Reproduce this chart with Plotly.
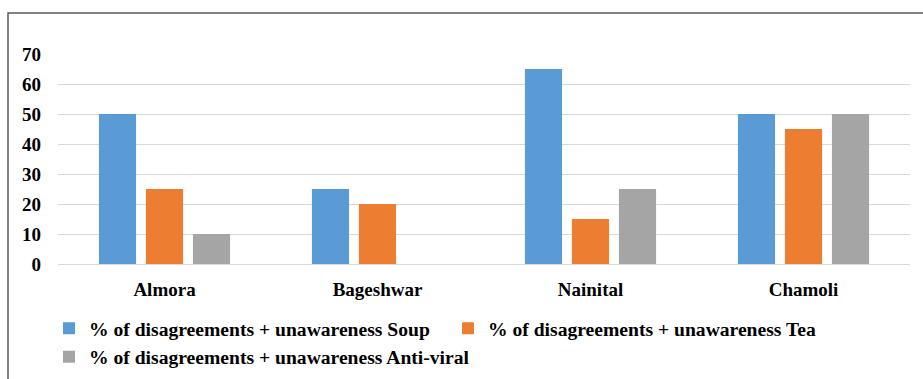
import plotly.graph_objects as go

# District-wise share of respondents who disagree with or are unaware of each remedy
districts = ["Almora", "Bageshwar", "Nainital", "Chamoli"]
soup = [50, 25, 65, 50]
tea = [25, 20, 15, 45]
antiviral = [10, 0, 25, 50]

series_names = [
    "% of disagreements + unawareness Soup",
    "% of disagreements + unawareness Tea",
    "% of disagreements + unawareness Anti-viral",
]
series_values = [soup, tea, antiviral]
series_colors = ["#5B9BD5", "#ED7D31", "#A5A5A5"]
y_ticks = [0, 10, 20, 30, 40, 50, 60, 70]

W, H = 923, 379
ML, MR, MT, MB = 58, 13, 54, 115
FAMILY = "Liberation Serif, Times New Roman, serif"
FONT = dict(family=FAMILY, size=19, color="#000000", weight="bold")
LEGEND_FONT = dict(family=FAMILY, size=19.6, color="#000000", weight="bold")

fig = go.Figure()
for name, vals, col in zip(series_names, series_values, series_colors):
    fig.add_trace(go.Bar(x=districts, y=vals, name=name, marker=dict(color=col, line=dict(width=0))))

pw = W - ML - MR
ph = H - MT - MB
# outer frame around the chart area
fig.add_shape(
    type="rect", xref="paper", yref="paper",
    x0=(8 - ML) / pw, x1=(W + 10 - ML) / pw,
    y0=(H - MB - (H + 10)) / ph, y1=(H - MB - 13) / ph,
    line=dict(color="#595959", width=1.5), fillcolor="rgba(0,0,0,0)", layer="below",
)

fig.update_layout(
    width=W, height=H,
    margin=dict(l=ML, r=MR, t=MT, b=MB, autoexpand=False),
    paper_bgcolor="white", plot_bgcolor="white",
    font=FONT,
    barmode="group", bargap=0.338, bargroupgap=0.21,
    showlegend=True,
    legend=dict(
        orientation="h", x=(49 - ML) / pw, xanchor="left",
        y=(H - MB - 309) / ph, yanchor="top",
        entrywidth=354, entrywidthmode="pixels",
        font=LEGEND_FONT,
        bgcolor="rgba(0,0,0,0)", tracegroupgap=0,
    ),
)
fig.update_xaxes(
    showgrid=False, showline=False, ticks="", ticklabelstandoff=12,
    tickfont=FONT,
)
fig.update_yaxes(
    range=[0, 70], tickvals=y_ticks, showgrid=True, gridcolor="#D9D9D9", gridwidth=1,
    zeroline=True, zerolinecolor="#D9D9D9", zerolinewidth=1,
    showline=False, ticks="", ticklabelstandoff=16,
    tickfont=FONT,
)

fig.write_html("out.html")
